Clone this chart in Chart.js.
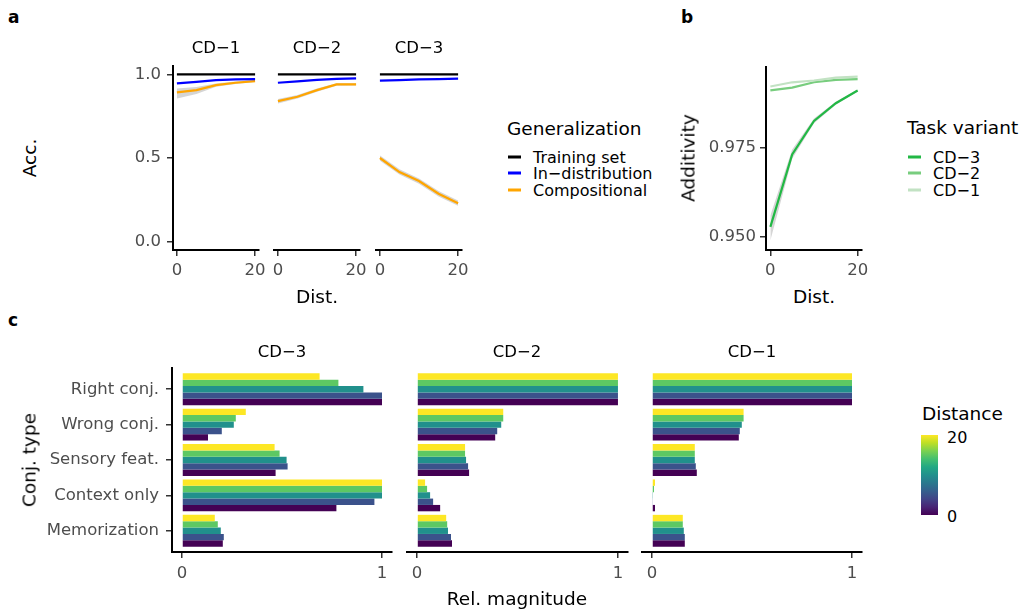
<!DOCTYPE html>
<html>
<head>
<meta charset="utf-8">
<script src="https://cdn.jsdelivr.net/npm/chart.js@4"></script>
<style>
  body { margin: 0; background: #fff; width: 1023px; height: 611px; position: relative; overflow: hidden;
         font-family: 'DejaVu Sans', sans-serif; color: #000; }
  canvas { position: absolute; }
  .txt { position: absolute; white-space: nowrap; transform: translate(-50%, -50%); }
  .lft { position: absolute; white-space: nowrap; transform: translate(0, -50%); }
  .rot { position: absolute; white-space: nowrap; transform: translate(-50%, -50%) rotate(-90deg); }
  .tag { position: absolute; font-weight: bold; font-size: 17px; transform: translate(0, -50%); }
  .strip { font-size: 16.5px; }
  .title { font-size: 18.5px; }
  .item { font-size: 16px; }
  .key { position: absolute; height: 3px; width: 13px; transform: translate(0, -50%); }
</style>
</head>
<body>
<canvas id="a1"></canvas><canvas id="a2"></canvas><canvas id="a3"></canvas>
<canvas id="b1"></canvas>
<canvas id="c1"></canvas><canvas id="c2"></canvas><canvas id="c3"></canvas>

<div class="tag" style="left:8px;top:17px">a</div>
<div class="tag" style="left:681px;top:17px">b</div>
<div class="tag" style="left:8px;top:320px">c</div>

<div class="txt strip" style="left:216px;top:47px">CD−1</div>
<div class="txt strip" style="left:317px;top:47px">CD−2</div>
<div class="txt strip" style="left:419px;top:47px">CD−3</div>
<div class="rot title" style="left:29px;top:158px">Acc.</div>
<div class="txt title" style="left:317px;top:296px">Dist.</div>

<div class="lft title" style="left:507px;top:128px">Generalization</div>
<div class="key" style="left:508px;top:157px;background:#000"></div>
<div class="lft item" style="left:533px;top:157px">Training set</div>
<div class="key" style="left:508px;top:173px;background:#0000FF"></div>
<div class="lft item" style="left:533px;top:173px">In−distribution</div>
<div class="key" style="left:508px;top:190px;background:#FFA500"></div>
<div class="lft item" style="left:533px;top:190px">Compositional</div>

<div class="rot title" style="left:688px;top:158px">Additivity</div>
<div class="txt title" style="left:814px;top:296px">Dist.</div>

<div class="lft title" style="left:907px;top:127px">Task variant</div>
<div class="key" style="left:908px;top:157px;background:#22B845"></div>
<div class="lft item" style="left:933px;top:157px">CD−3</div>
<div class="key" style="left:908px;top:173px;background:#78CD7E"></div>
<div class="lft item" style="left:933px;top:173px">CD−2</div>
<div class="key" style="left:908px;top:190px;background:#C2E2C3"></div>
<div class="lft item" style="left:933px;top:190px">CD−1</div>

<div class="txt strip" style="left:282px;top:351px">CD−3</div>
<div class="txt strip" style="left:517px;top:351px">CD−2</div>
<div class="txt strip" style="left:752px;top:351px">CD−1</div>
<div class="rot title" style="left:29px;top:460px">Conj. type</div>
<div class="txt title" style="left:517px;top:598px">Rel. magnitude</div>

<div class="lft title" style="left:922px;top:413px">Distance</div>
<div id="cbar" style="position:absolute;left:921px;top:435px;width:17px;height:80px"></div>
<div class="lft item" style="left:947px;top:437px">20</div>
<div class="lft item" style="left:947px;top:516px">0</div>

<script>
const FONT = "'DejaVu Sans', sans-serif";
Chart.defaults.font.family = FONT;

// panel a: accuracy vs distance
const dist = [0, 5, 10, 15, 20];
const cd1Train = [1.0, 1.0, 1.0, 1.0, 1.0];
const cd1InDist = [0.946, 0.955, 0.965, 0.970, 0.972];
const cd1Comp = [0.892, 0.906, 0.936, 0.950, 0.960];
const cd1CompLo = [0.856, 0.882, 0.926, 0.943, 0.955];
const cd1CompHi = [0.915, 0.925, 0.946, 0.957, 0.966];
const cd2Train = [1.0, 1.0, 1.0, 1.0, 1.0];
const cd2InDist = [0.950, 0.958, 0.967, 0.973, 0.976];
const cd2Comp = [0.840, 0.866, 0.906, 0.940, 0.940];
const cd2CompLo = [0.826, 0.855, 0.896, 0.932, 0.933];
const cd2CompHi = [0.853, 0.877, 0.915, 0.947, 0.947];
const cd3Train = [1.0, 1.0, 1.0, 1.0, 1.0];
const cd3InDist = [0.962, 0.966, 0.970, 0.972, 0.974];
const cd3Comp = [0.500, 0.416, 0.362, 0.286, 0.230];
const cd3CompLo = [0.484, 0.401, 0.346, 0.270, 0.214];
const cd3CompHi = [0.515, 0.432, 0.378, 0.302, 0.246];
const accTicks = [0, 0.5, 1.0];
const distTicks = [0, 20];

// panel b: additivity
const addCD3 = [0.9528, 0.9732, 0.9826, 0.9876, 0.9912];
const addCD3Lo = [0.9490, 0.9720, 0.9820, 0.9872, 0.9909];
const addCD3Hi = [0.9560, 0.9746, 0.9833, 0.9880, 0.9915];
const addCD2 = [0.9912, 0.9920, 0.9935, 0.9942, 0.9944];
const addCD1 = [0.9923, 0.9935, 0.9940, 0.9948, 0.9951];
const addTicks = [0.950, 0.975];

// panel c: relative magnitude per conj. type, one row per distance (0,5,10,15,20)
const conjTypes = ['Right conj.', 'Wrong conj.', 'Sensory feat.', 'Context only', 'Memorization'];
const barDist = [0, 5, 10, 15, 20];
const viridis = ['#440154', '#3B528B', '#21908C', '#5DC863', '#FDE725'];
const cd3Mag = [
  [1.000, 0.130, 0.468, 0.772, 0.204],
  [1.000, 0.199, 0.528, 0.962, 0.209],
  [0.907, 0.259, 0.523, 1.000, 0.194],
  [0.782, 0.269, 0.488, 1.000, 0.179],
  [0.688, 0.319, 0.463, 1.000, 0.164]
];
const cd2Mag = [
  [1.000, 0.389, 0.259, 0.115, 0.174],
  [1.000, 0.399, 0.254, 0.080, 0.169],
  [1.000, 0.419, 0.244, 0.065, 0.154],
  [1.000, 0.429, 0.239, 0.050, 0.150],
  [1.000, 0.429, 0.239, 0.040, 0.145]
];
const cd1Mag = [
  [1.000, 0.434, 0.224, 0.015, 0.164],
  [1.000, 0.439, 0.219, 0.003, 0.164],
  [1.000, 0.449, 0.214, 0.005, 0.159],
  [1.000, 0.458, 0.214, 0.010, 0.154],
  [1.000, 0.458, 0.214, 0.015, 0.154]
];
const magTicks = [0, 1];

const PAD = {left: 14, right: 14, top: 12, bottom: 4};

// size and place a canvas so that its chart area lands on the given box
function place(id, area, yw, xh) {
  const c = document.getElementById(id);
  c.width = Math.round(area.r - area.l + yw + PAD.left + PAD.right);
  c.height = Math.round(area.b - area.t + xh + PAD.top + PAD.bottom);
  c.style.left = (area.l - yw - PAD.left) + 'px';
  c.style.top = (area.t - PAD.top) + 'px';
  return c;
}

// fixed axis box size, and no extra label padding so the chart area stays put
const fixW = w => s => { s.width = w; s.paddingTop = 0; s.paddingBottom = 0; };
const fixH = h => s => { s.height = h; s.paddingLeft = 0; s.paddingRight = 0; };

function axis(min, max, ticks, fmt, opts, pad) {
  return Object.assign({
    type: 'linear', min: min, max: max, offset: false,
    afterBuildTicks: s => { s.ticks = ticks.map(v => ({value: v})); },
    border: {display: true, color: '#000', width: 2},
    grid: {display: true, offset: false, drawOnChartArea: false, drawTicks: true, tickLength: 6, color: '#333', lineWidth: 1.5},
    ticks: {color: '#4D4D4D', font: {size: 16.5}, padding: pad || 4, maxRotation: 0, autoSkip: false, callback: fmt}
  }, opts);
}

const xy = arr => dist.map((d, i) => ({x: d, y: arr[i]}));

function line(arr, color, w) {
  return {data: xy(arr), borderColor: color, borderWidth: w || 2.2, pointRadius: 0, tension: 0, fill: false, order: 0};
}
function ribbon(lo, hi) {
  return [
    {data: xy(lo), borderWidth: 0, pointRadius: 0, fill: false, order: 5},
    {data: xy(hi), borderWidth: 0, pointRadius: 0, fill: '-1', backgroundColor: 'rgba(150,150,150,0.4)', order: 5}
  ];
}

const baseOpts = {
  responsive: false, animation: false, devicePixelRatio: 1,
  layout: {padding: PAD},
  plugins: {legend: {display: false}, tooltip: {enabled: false}}
};

function accChart(id, area, showY, train, inDist, comp, lo, hi) {
  const cv = place(id, area, showY ? 45 : 0, 30);
  const yAx = showY
    ? axis(-0.05, 1.05, accTicks, v => v.toFixed(1), {afterFit: fixW(45)}, 6)
    : {type: 'linear', min: -0.05, max: 1.05, display: false};
  new Chart(cv, {
    type: 'line',
    data: {datasets: [...ribbon(lo, hi), line(train, '#000000'), line(inDist, '#0000FF'), line(comp, '#FFA500')]},
    options: Object.assign({}, baseOpts, {
      scales: {
        x: axis(-1, 21, distTicks, v => String(v), {afterFit: fixH(30)}, 5),
        y: yAx
      }
    })
  });
}

accChart('a1', {l: 173, r: 259, t: 66, b: 250}, true, cd1Train, cd1InDist, cd1Comp, cd1CompLo, cd1CompHi);
accChart('a2', {l: 274, r: 360, t: 66, b: 250}, false, cd2Train, cd2InDist, cd2Comp, cd2CompLo, cd2CompHi);
accChart('a3', {l: 376, r: 462, t: 66, b: 250}, false, cd3Train, cd3InDist, cd3Comp, cd3CompLo, cd3CompHi);

// panel b
const bCv = place('b1', {l: 766, r: 862, t: 67, b: 250}, 62, 30);
new Chart(bCv, {
  type: 'line',
  data: {datasets: [
    ...ribbon(addCD3Lo, addCD3Hi),
    line(addCD1, '#C2E2C3', 2.2),
    line(addCD2, '#78CD7E', 2.2),
    line(addCD3, '#22B845', 2.2)
  ]},
  options: Object.assign({}, baseOpts, {
    scales: {
      x: axis(-1, 21, distTicks, v => String(v), {afterFit: fixH(30)}, 5),
      y: axis(0.9463, 0.9978, addTicks, v => v.toFixed(3), {afterFit: fixW(62)})
    }
  })
});

// panel c
function magChart(id, area, showY, mags) {
  const cv = place(id, area, showY ? 130 : 0, 32);
  const datasets = [];
  for (let k = barDist.length - 1; k >= 0; k--) {
    datasets.push({
      label: String(barDist[k]),
      data: conjTypes.map((c, i) => ({x: mags[k][i], y: i})),
      backgroundColor: viridis[k],
      borderWidth: 0,
      categoryPercentage: 0.9,
      barPercentage: 1.0
    });
  }
  const yAx = showY
    ? axis(-0.6, 4.6, [0, 1, 2, 3, 4], v => conjTypes[v], {reverse: true, afterFit: fixW(130)}, 7)
    : {type: 'linear', min: -0.6, max: 4.6, reverse: true, display: false, offset: false, grid: {offset: false},
       afterBuildTicks: s => { s.ticks = [0, 1, 2, 3, 4].map(v => ({value: v})); }};
  new Chart(cv, {
    type: 'bar',
    data: {datasets: datasets},
    options: Object.assign({}, baseOpts, {
      indexAxis: 'y',
      scales: {
        x: axis(-0.05, 1.05, magTicks, v => String(v), {afterFit: fixH(32)}, 6),
        y: yAx
      }
    })
  });
}

magChart('c1', {l: 172, r: 392, t: 368, b: 552}, true, cd3Mag);
magChart('c2', {l: 407, r: 628, t: 368, b: 552}, false, cd2Mag);
magChart('c3', {l: 642, r: 862, t: 368, b: 552}, false, cd1Mag);

// colour bar for distance
document.getElementById('cbar').style.background =
  'linear-gradient(to top, #440154 0%, #482475 10%, #414487 20%, #355F8D 30%, #2A788E 40%, #21908D 50%, #22A884 60%, #44BF70 70%, #7AD151 80%, #BDDF26 90%, #FDE725 100%)';
</script>
</body>
</html>
